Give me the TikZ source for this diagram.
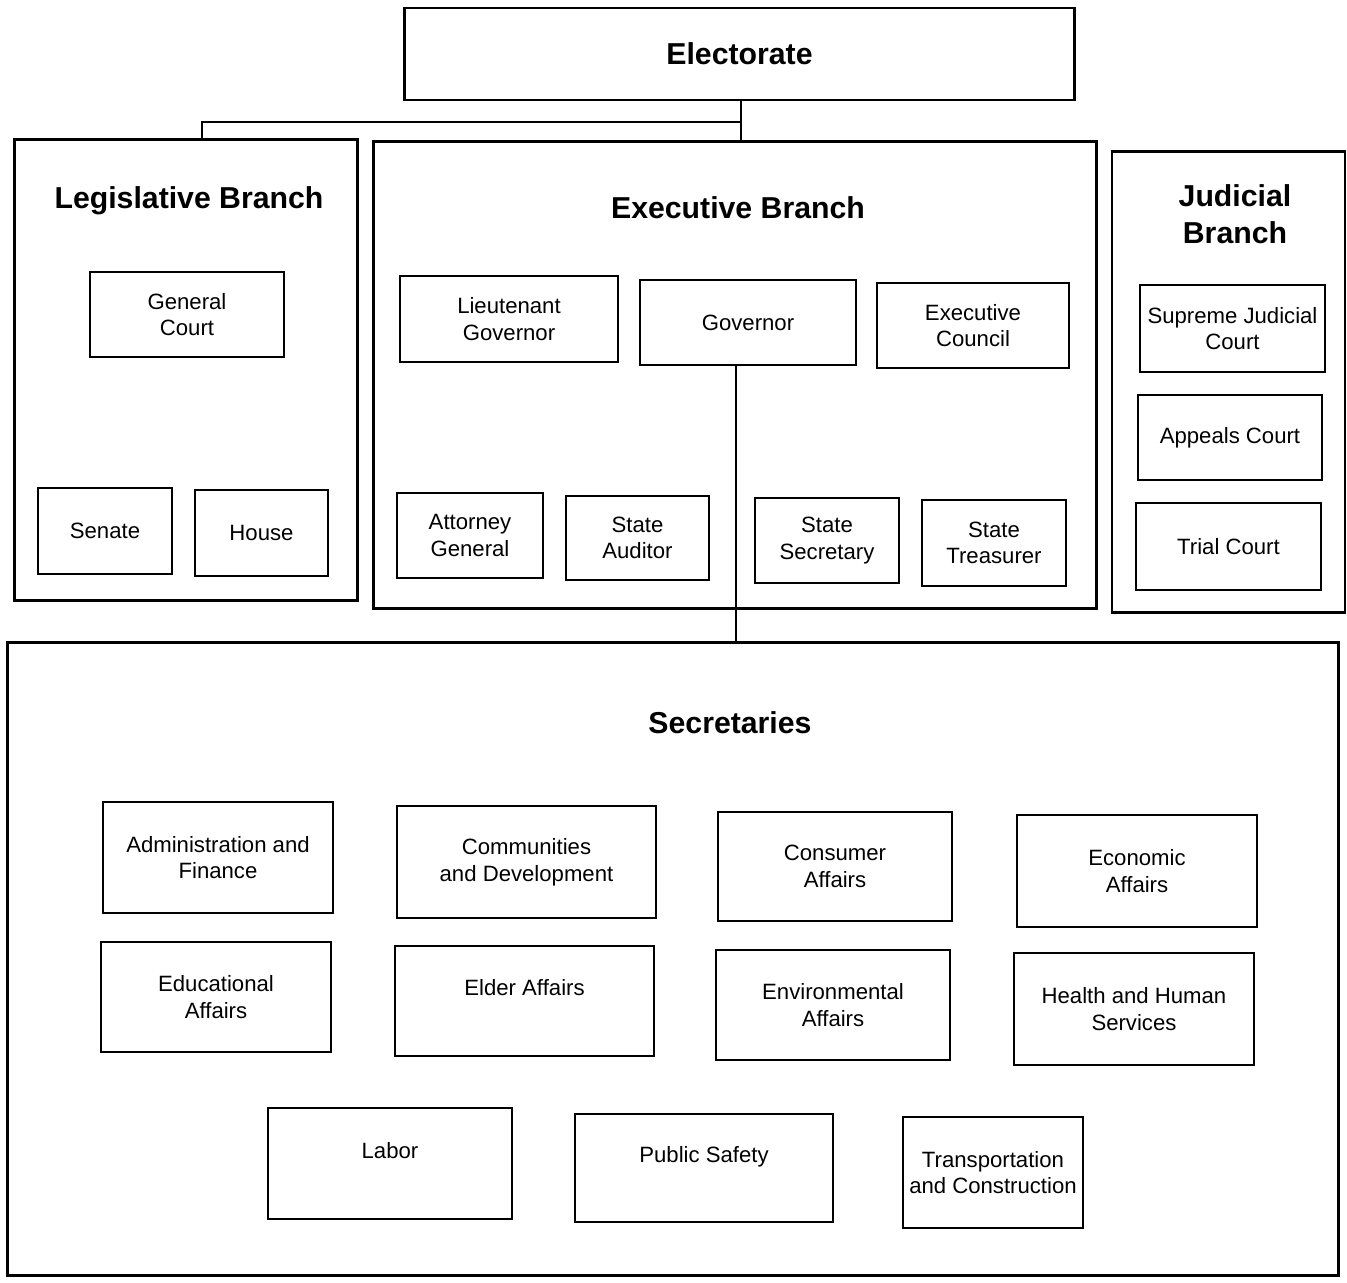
\documentclass[tikz,border=0pt]{standalone}
\usepackage{fontspec}
\setmainfont{Liberation Sans}
\usepackage{tikz}

\tikzset{
  frame/.style={draw, line width=0.8pt, inner sep=0pt},
  office/.style={draw, line width=0.8pt, align=center, inner sep=0pt,
    font=\fontsize{6.3}{7.6}\selectfont},
  heading/.style={align=center, font=\fontsize{8.6}{10.5}\selectfont\bfseries},
  link/.style={line width=0.7pt}
}

\begin{document}
\begin{tikzpicture}[x=0.01cm, y=-0.01cm]
      \useasboundingbox (0,0) rectangle (1347,1283);

      % electorate
      \node[office, minimum width=6.69cm, minimum height=0.92cm,
        font=\fontsize{8.6}{10.5}\selectfont\bfseries] (elect) at (739.5,54) {Electorate};

      % the three branches
      \node[frame, minimum width=3.42cm, minimum height=4.60cm] (legis) at (186,370) {};
      \node[frame, minimum width=7.22cm, minimum height=4.66cm] (exec) at (735,375) {};
      \node[frame, minimum width=2.33cm, minimum height=4.60cm] (judic) at (1228.5,382) {};

      \node[heading] (legtitle) at (189,201) {Legislative Branch};
      \node[heading] (exectitle) at (738,208) {Executive Branch};
      \node[heading] (judtitle) at (1235,214) {Judicial\\Branch};

      % legislative
      \node[office, minimum width=1.94cm, minimum height=0.85cm] (gencourt) at (187,314.5) {General\\Court};
      \node[office, minimum width=1.34cm, minimum height=0.86cm] (senate) at (105,531) {Senate};
      \node[office, minimum width=1.33cm, minimum height=0.86cm] (house) at (261.5,533) {House};

      % executive
      \node[office, minimum width=2.18cm, minimum height=0.86cm] (ltgov) at (509,319) {Lieutenant\\Governor};
      \node[office, minimum width=2.16cm, minimum height=0.85cm] (gov) at (748,322.5) {Governor};
      \node[office, minimum width=1.92cm, minimum height=0.85cm] (council) at (973,325.5) {Executive\\Council};
      \node[office, minimum width=1.46cm, minimum height=0.85cm] (attgen) at (470,535.5) {Attorney\\General};
      \node[office, minimum width=1.43cm, minimum height=0.84cm] (auditor) at (637.5,538) {State\\Auditor};
      \node[office, minimum width=1.44cm, minimum height=0.85cm] (statesec) at (827,540.5) {State\\Secretary};
      \node[office, minimum width=1.44cm, minimum height=0.86cm] (treas) at (994,543) {State\\Treasurer};

      % judicial
      \node[office, minimum width=1.85cm, minimum height=0.87cm] (supreme) at (1232.5,328.5) {Supreme Judicial\\Court};
      \node[office, minimum width=1.84cm, minimum height=0.85cm] (appeals) at (1230,437.5) {Appeals Court};
      \node[office, minimum width=1.85cm, minimum height=0.87cm] (trial) at (1228.5,546.5) {Trial Court};

      % secretaries
      \node[frame, minimum width=13.30cm, minimum height=6.32cm] (secr) at (673,959) {};
      \node[heading] (sectitle) at (730,723) {Secretaries};

      \node[office, minimum width=2.30cm, minimum height=1.11cm] (admin) at (218,857.5) {Administration and\\Finance};
      \node[office, minimum width=2.59cm, minimum height=1.12cm] (commdev) at (526.5,862) {Communities\\and Development};
      \node[office, minimum width=2.34cm, minimum height=1.09cm] (consumer) at (835,866.5) {Consumer\\Affairs};
      \node[office, minimum width=2.40cm, minimum height=1.12cm] (econ) at (1137,871) {Economic\\Affairs};

      \node[office, minimum width=2.30cm, minimum height=1.10cm] (educ) at (216,997) {Educational\\Affairs};
      \node[office, minimum width=2.59cm, minimum height=1.10cm] (elder) at (524.5,1001) {Elder Affairs\\\mbox{}};
      \node[office, minimum width=2.34cm, minimum height=1.10cm] (environ) at (833,1005) {Environmental\\Affairs};
      \node[office, minimum width=2.40cm, minimum height=1.12cm] (health) at (1134,1009) {Health and Human\\Services};

      \node[office, minimum width=2.44cm, minimum height=1.11cm] (labor) at (390,1163.5) {Labor\\\mbox{}};
      \node[office, minimum width=2.58cm, minimum height=1.08cm] (safety) at (704,1168) {Public Safety\\\mbox{}};
      \node[office, minimum width=1.80cm, minimum height=1.11cm] (transp) at (993,1172.5) {Transportation\\and Construction};

      % connectors
      \coordinate (split) at (741,122);
      \coordinate (legtop) at (202,140);
      \draw[link] (elect.south -| split) -- (split);
      \draw[link] (split) -| (legtop);
      \draw[link] (split) -- (split |- exec.north);
      \draw[link] (gov.south -| 736,0) -- (secr.north -| 736,0);
\end{tikzpicture}
\end{document}
